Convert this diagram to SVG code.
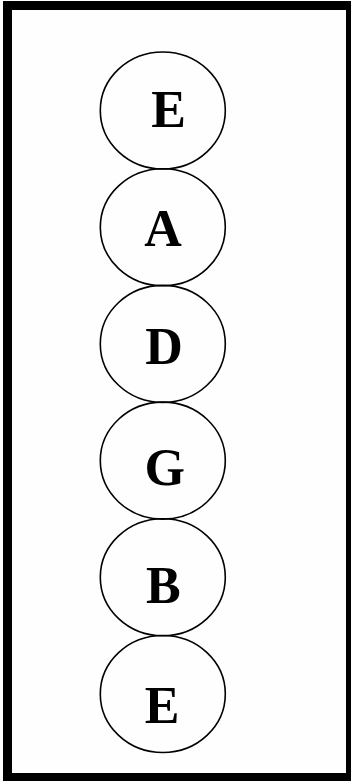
<svg xmlns="http://www.w3.org/2000/svg" width="352" height="782" viewBox="0 0 352 782">
<style>
.n ellipse{fill:none;stroke:#000;stroke-width:1.6}
.n text{font-family:"Liberation Serif","Times New Roman",serif;font-weight:bold;font-size:52px;text-anchor:middle;fill:#000}
</style>
<rect x="3" y="1" width="348" height="780" fill="#000"/>
<rect x="12" y="10" width="334" height="763" fill="#fefefe"/>
<g id="connectors"></g>
<g id="n1" class="n"><ellipse cx="162.8" cy="110.5" rx="62.5" ry="58.5"/><text x="168.5" y="126.5">E</text></g>
<g id="n2" class="n"><ellipse cx="162.8" cy="227.2" rx="62.5" ry="58.5"/><text x="163" y="246">A</text></g>
<g id="n3" class="n"><ellipse cx="162.8" cy="343.9" rx="62.5" ry="58.5"/><text x="164" y="364.3">D</text></g>
<g id="n4" class="n"><ellipse cx="162.8" cy="460.6" rx="62.5" ry="58.5"/><text x="164.7" y="484.5">G</text></g>
<g id="n5" class="n"><ellipse cx="162.8" cy="577.3" rx="62.5" ry="58.5"/><text x="163.4" y="603.3">B</text></g>
<g id="n6" class="n"><ellipse cx="162.8" cy="694" rx="62.5" ry="58.5"/><text x="162.2" y="723.3">E</text></g>
</svg>
